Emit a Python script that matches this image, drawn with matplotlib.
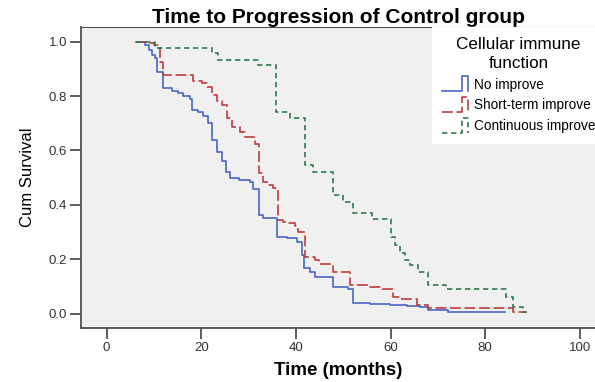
import matplotlib
matplotlib.use('Agg')
import matplotlib.pyplot as plt
from matplotlib.lines import Line2D
from matplotlib.legend_handler import HandlerBase

plt.rcParams['font.family'] = ['Liberation Sans', 'DejaVu Sans']

# ---- data (months, cumulative survival) ----
no_time = [6.2, 8.1, 9.0, 9.6, 10.2, 10.7, 11.9, 13.8, 15.1, 16.2, 17.6, 18.1, 19.3,
           20.4, 21.4, 22.2, 23.3, 24.3, 25.2, 26.1, 28.0, 30.3, 30.9, 32.2, 33.1,
           36.1, 38.1, 40.2, 41.2, 41.7, 43.0, 44.0, 47.8, 51.0, 52.0, 55.7, 59.9,
           63.4, 66.2, 67.9, 72.1, 84.2]
no_surv = [1.0, 0.988, 0.970, 0.951, 0.939, 0.887, 0.830, 0.820, 0.810, 0.800, 0.790,
           0.750, 0.740, 0.725, 0.700, 0.640, 0.596, 0.560, 0.520, 0.500, 0.490, 0.485,
           0.460, 0.363, 0.350, 0.283, 0.277, 0.265, 0.216, 0.167, 0.154, 0.136, 0.097,
           0.090, 0.040, 0.037, 0.032, 0.028, 0.023, 0.014, 0.006, 0.006]

short_time = [6.2, 9.2, 10.0, 11.3, 12.0, 18.3, 20.1, 21.3, 22.2, 23.4, 24.3, 25.4,
              26.4, 28.2, 29.3, 31.4, 32.3, 33.1, 34.2, 35.1, 36.3, 37.3, 38.4, 39.8,
              40.5, 41.9, 44.0, 44.9, 47.9, 51.4, 55.3, 58.1, 60.6, 62.0, 65.5, 68.0,
              85.9, 88.4]
short_surv = [1.0, 0.995, 0.988, 0.926, 0.877, 0.857, 0.847, 0.835, 0.804, 0.783, 0.767,
              0.718, 0.688, 0.669, 0.651, 0.624, 0.516, 0.485, 0.473, 0.461, 0.344, 0.338,
              0.332, 0.322, 0.301, 0.207, 0.197, 0.183, 0.154, 0.105, 0.099, 0.090, 0.0625,
              0.053, 0.032, 0.020, 0.007, 0.007]

cont_time = [6.2, 10.2, 22.2, 23.6, 32.1, 35.9, 38.8, 41.9, 43.7, 47.9, 50.0, 52.0,
             56.0, 60.0, 60.9, 62.0, 63.0, 64.1, 65.8, 68.0, 71.8, 84.5, 85.9, 88.0, 88.8]
cont_surv = [1.0, 0.976, 0.957, 0.933, 0.914, 0.743, 0.718, 0.547, 0.522, 0.436, 0.412,
             0.369, 0.347, 0.283, 0.253, 0.222, 0.197, 0.179, 0.154, 0.105, 0.090, 0.0625,
             0.024, 0.007, 0.007]

labels = ['No improve', 'Short-term improve', 'Continuous improve']
x_ticks = [0, 20, 40, 60, 80, 100]
y_ticks = [0.0, 0.2, 0.4, 0.6, 0.8, 1.0]

# ---- figure ----
fig = plt.figure(figsize=(5.95, 3.82), dpi=100)
ax = fig.add_axes([81 / 595, 54 / 382, 1 - 81 / 595, (328 - 27) / 382])
ax.set_facecolor('#F0F0F0')

blue = '#4A66C4'
red = '#C03A3E'
green = '#2E7A4E'

l1, = ax.plot(no_time, no_surv, drawstyle='steps-post', color=blue, lw=1.2,
              label=labels[0])
l2, = ax.plot(short_time, short_surv, drawstyle='steps-post', color=red, lw=1.2,
              dashes=(6.5, 2.2), label=labels[1])
l3, = ax.plot(cont_time, cont_surv, drawstyle='steps-post', color=green, lw=1.2,
              dashes=(3.2, 2.2), label=labels[2])

ax.set_xlim(-5.4, 103.2)
ax.set_ylim(-0.0526, 1.054)
ax.set_xticks(x_ticks)
ax.set_xticklabels([str(v) for v in x_ticks])
ax.set_yticks(y_ticks)
ax.set_yticklabels([f'{v:.1f}' for v in y_ticks])

for s in ['left', 'bottom']:
    ax.spines[s].set_color('#505050')
    ax.spines[s].set_linewidth(1.3)
ax.spines['top'].set_color('#505050')
ax.spines['top'].set_linewidth(0.8)
ax.spines['right'].set_visible(False)
ax.tick_params(axis='both', direction='out', length=8, width=1.3, color='#505050',
               labelsize=9.5, labelcolor='#333333', pad=2)

ax.set_title('Time to Progression of Control group', fontsize=15, fontweight='bold',
             pad=3)
ax.set_xlabel('Time (months)', fontsize=13.5, fontweight='bold', labelpad=6)
ax.set_ylabel('Cum Survival', fontsize=12, labelpad=10)


class StepHandler(HandlerBase):
    def create_artists(self, legend, orig_handle, xdescent, ydescent, width, height,
                       fontsize, trans):
        x0 = -xdescent
        y0 = -ydescent
        lo = y0 - 0.25 * height
        hi = y0 + 1.3 * height
        xs = [x0, x0 + 0.78 * width, x0 + 0.78 * width, x0 + width, x0 + width]
        ys = [lo, lo, hi, hi, lo]
        line = Line2D(xs, ys)
        line.update_from(orig_handle)
        line.set_data(xs, ys)
        line.set_drawstyle('default')
        line.set_transform(trans)
        return [line]


leg = ax.legend(handles=[l1, l2, l3], labels=labels, loc='upper left',
                bbox_to_anchor=(351 / 514, 1.0), borderaxespad=0,
                title='Cellular immune\nfunction', title_fontsize=12.3, fontsize=9.8,
                frameon=True, fancybox=False, framealpha=1, facecolor='white',
                edgecolor='white', handlelength=1.95, handletextpad=0.45,
                labelspacing=0.5, borderpad=0.7,
                handler_map={Line2D: StepHandler()})
leg.get_title().set_multialignment('center')
leg.get_title().set_linespacing(1.35)

fig.savefig('out.png', dpi=100)
